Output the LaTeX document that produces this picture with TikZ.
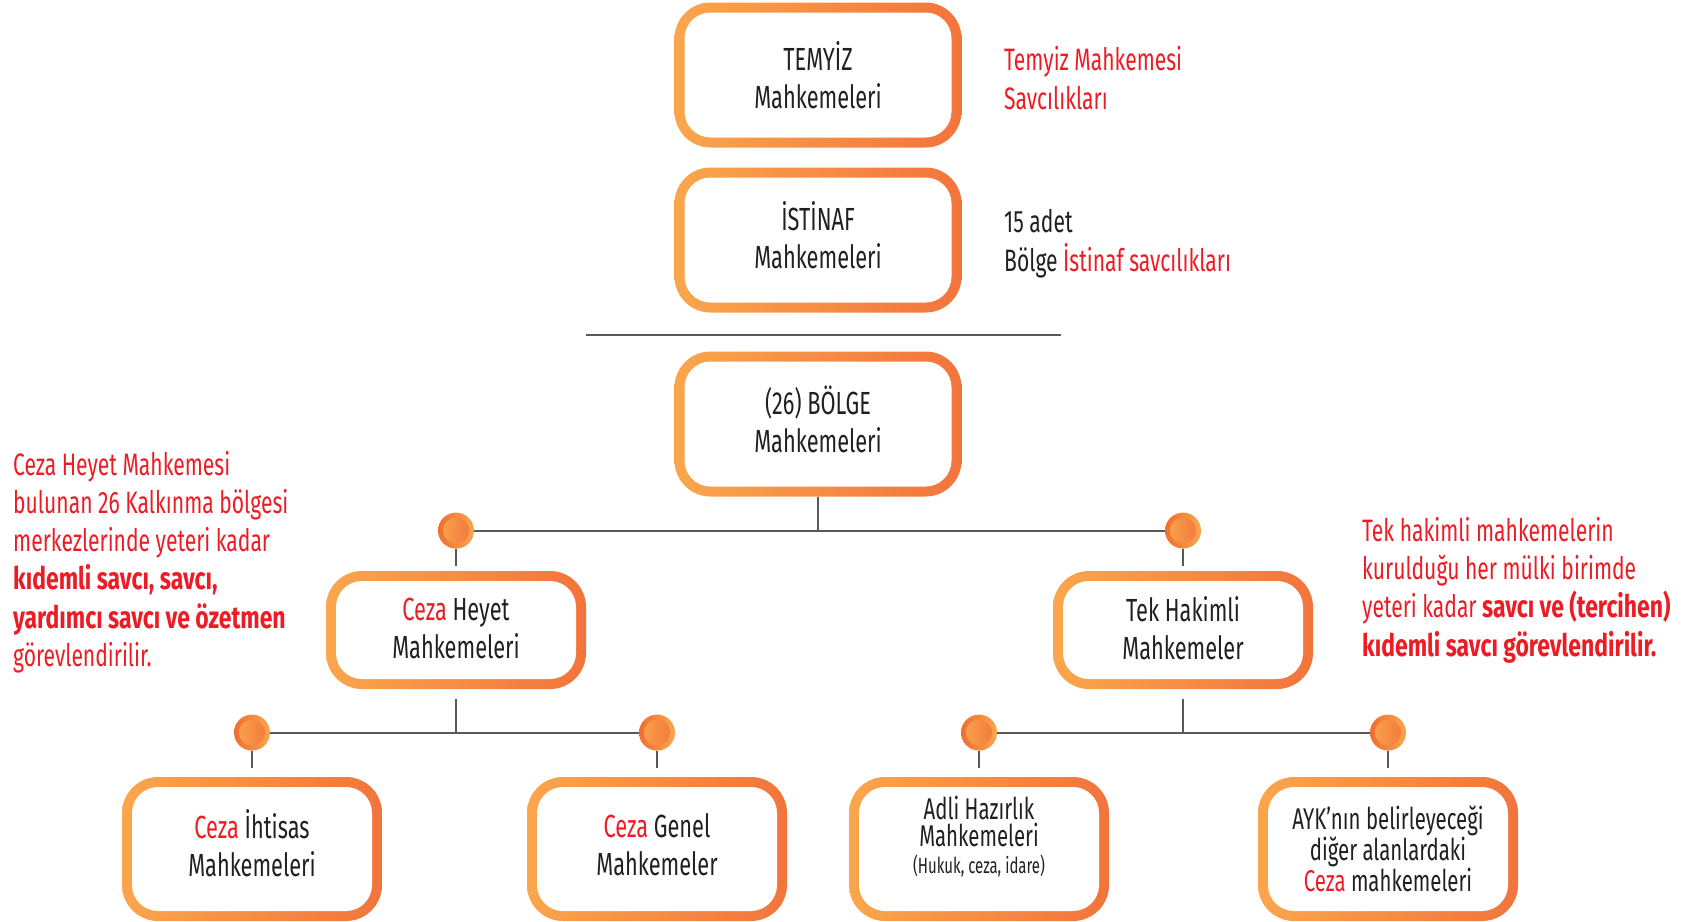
\documentclass[tikz,border=0pt]{standalone}
\usepackage{fontspec}
\setmainfont{Fira Sans}[FakeStretch=0.68]
\newfontfamily\notebold{Fira Sans}[FakeStretch=0.74]
\usepackage{tikz}
\usetikzlibrary{positioning}

\definecolor{courtred}{RGB}{237,28,36}
\definecolor{inktext}{RGB}{35,31,32}
\definecolor{orangeL}{RGB}{250,166,76}
\definecolor{orangeR}{RGB}{242,116,60}
\definecolor{pinDark}{RGB}{240,110,50}
\definecolor{linkgray}{RGB}{88,89,91}

\newcommand{\rd}[1]{\textcolor{courtred}{#1}}
\newcommand{\bd}[1]{{\notebold\bfseries #1}}
\newcommand{\lift}[1]{\rule[-#1]{0pt}{#1}}

\begin{document}
\begin{tikzpicture}[x=1pt,y=-1pt,
    court/.style={rounded corners=36pt, left color=orangeL, right color=orangeR,
        minimum width=287pt, minimum height=145pt, inner sep=0pt, align=center,
        text=inktext, font=\fontsize{32}{38}\selectfont,
        path picture={\fill[white,rounded corners=26pt]
            ([shift={(10pt,-10pt)}]path picture bounding box.north west) rectangle
            ([shift={(-10pt,10pt)}]path picture bounding box.south east);}},
    subcourt/.style={court, minimum width=260pt, minimum height=118pt},
    leafcourt/.style={court, minimum width=260pt, minimum height=144pt},
    pin/.style={circle, minimum size=36pt, inner sep=0pt, left color=pinDark, right color=orangeL,
        path picture={\shade[left color=orangeL, right color=orangeR]
            (path picture bounding box.center) circle[radius=13pt];}},
    link/.style={draw=linkgray, line width=2pt},
    note/.style={anchor=west, align=left, inner sep=0pt, text=courtred,
        font=\fontsize{31}{38.3}\selectfont}]

    \useasboundingbox (0,0) rectangle (1688,921);

    \node[court] (temyiz) at (818,75) {TEMYİZ\\Mahkemeleri};
    \node[court] (istinaf) at (818,240) {İSTİNAF\\Mahkemeleri\lift{11pt}};
    \draw[link] (586,335) -- (1061,335);
    \node[court] (bolge) at (818,424) {(26) BÖLGE\\Mahkemeleri\lift{9pt}};

    \node[subcourt] (heyet) at (456,630) {\rd{Ceza} Heyet\\Mahkemeleri\lift{4pt}};
    \node[subcourt] (tek) at (1183,630) {Tek Hakimli\\Mahkemeler\lift{4pt}};
    \node[pin, above=22pt of heyet] (heyetpin) {};
    \node[pin, above=22pt of tek] (tekpin) {};

    \node[leafcourt] (ihtisas) at (252,849) {\rd{Ceza} İhtisas\\Mahkemeleri\lift{13pt}};
    \node[leafcourt] (genel) at (657,849) {\rd{Ceza} Genel\\Mahkemeler\lift{9pt}};
    \node[leafcourt, font=\fontsize{30}{27}\selectfont] (adli) at (979,849)
        {Adli Hazırlık\\Mahkemeleri\\{\fontsize{22}{27}\selectfont (Hukuk, ceza, idare)}\lift{28pt}};
    \node[leafcourt, font=\fontsize{30}{31}\selectfont] (ayk) at (1388,849)
        {AYK’nın belirleyeceği\\diğer alanlardaki\\\rd{Ceza} mahkemeleri};
    \node[pin, above=26pt of ihtisas] (ihtisaspin) {};
    \node[pin, above=26pt of genel] (genelpin) {};
    \node[pin, above=26pt of adli] (adlipin) {};
    \node[pin, above=26pt of ayk] (aykpin) {};

    \draw[link] (bolge.south) -- (bolge.south |- heyetpin.center);
    \draw[link] (heyetpin.east) -- (tekpin.west);
    \draw[link] (heyetpin.south) -- ([yshift=5pt]heyet.north);
    \draw[link] (tekpin.south) -- ([yshift=5pt]tek.north);
    \draw[link] ([yshift=-10pt]heyet.south) -- (heyet.south |- ihtisaspin.center);
    \draw[link] ([yshift=-10pt]tek.south) -- (tek.south |- adlipin.center);
    \draw[link] (ihtisaspin.east) -- (genelpin.west);
    \draw[link] (adlipin.east) -- (aykpin.west);
    \draw[link] (ihtisaspin.south) -- ([yshift=9pt]ihtisas.north);
    \draw[link] (genelpin.south) -- ([yshift=9pt]genel.north);
    \draw[link] (adlipin.south) -- ([yshift=9pt]adli.north);
    \draw[link] (aykpin.south) -- ([yshift=9pt]ayk.north);

    \node[note, font=\fontsize{31}{39}\selectfont] (temyiznote) at (1004,78)
        {Temyiz Mahkemesi\\Savcılıkları};
    \node[note, text=inktext, font=\fontsize{31}{38.7}\selectfont] (istinafnote) at (1004,244)
        {15 adet\\Bölge \rd{İstinaf savcılıkları}};
    \node[note] (heyetnote) at (13,562)
        {Ceza Heyet Mahkemesi\\bulunan 26 Kalkınma bölgesi\\merkezlerinde yeteri kadar\\
         \bd{kıdemli savcı, savcı,}\\\bd{yardımcı savcı ve özetmen}\\görevlendirilir.};
    \node[note] (teknote) at (1362,590)
        {Tek hakimli mahkemelerin\\kurulduğu her mülki birimde\\yeteri kadar \bd{savcı ve (tercihen)}\\
         \bd{kıdemli savcı görevlendirilir.}};
\end{tikzpicture}
\end{document}
